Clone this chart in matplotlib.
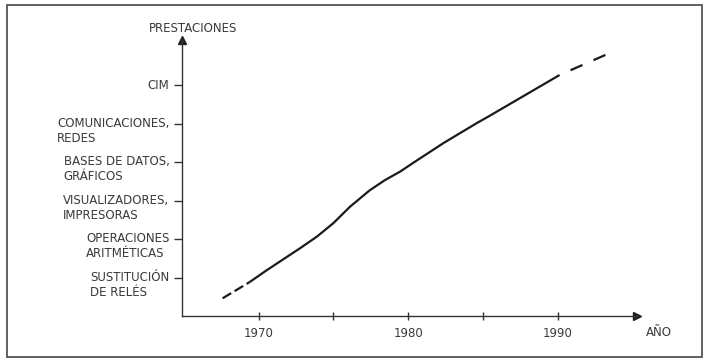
"""
Evolucion de las prestaciones de los automatas programables (figura de libro).
"""
import matplotlib.pyplot as plt
from matplotlib.patches import Rectangle

# Niveles del eje vertical (de abajo a arriba)
levels = [1, 2, 3, 4, 5, 6]
level_labels = [
    "SUSTITUCIÓN\nDE RELÉS",
    "OPERACIONES\nARITMÉTICAS",
    "VISUALIZADORES,\nIMPRESORAS",
    "BASES DE DATOS,\nGRÁFICOS",
    "COMUNICACIONES,\nREDES",
    "CIM",
]

# Ticks del eje horizontal
year_ticks = [1970, 1975, 1980, 1985, 1990]
year_labels = ["1970", "", "1980", "", "1990"]

# Curva: tramo inicial a trazos, tramo continuo, tramo final a trazos
start_years = [1967.6, 1969.4]
start_values = [0.46, 0.88]
main_years = [1969.4, 1970.55, 1972.77, 1973.89, 1974.99, 1976.11, 1977.44,
              1978.44, 1979.45, 1980.45, 1982.34, 1983.45, 1984.57, 1985.34, 1990.1]
main_values = [0.88, 1.19, 1.76, 2.06, 2.41, 2.84, 3.27,
               3.53, 3.75, 4.01, 4.49, 4.75, 5.01, 5.18, 6.26]
end_years = [1990.1, 1993.5]
end_values = [6.26, 6.84]

W, H = 704, 360
fig = plt.figure(figsize=(W / 100, H / 100), dpi=100)

# Marco exterior
fig.patches.append(Rectangle((7 / W, 3 / H), 695 / W, 352 / H, transform=fig.transFigure,
                             fill=False, edgecolor="#555555", linewidth=1.3))

ax_left, ax_bottom = 182, 316
ax_right, ax_top = 637, 40
ax = fig.add_axes([ax_left / W, (H - ax_bottom) / H, (ax_right - ax_left) / W, (ax_bottom - ax_top) / H])
ax.set_xlim(1964.89, 1995.27)
ax.set_ylim(0, 7.17)

line_kw = dict(color="#1a1a1a", linewidth=1.6, solid_capstyle="butt", solid_joinstyle="round")
ax.plot(start_years, start_values, linestyle=(0, (4.5, 1.8)), dash_capstyle="butt", **line_kw)
ax.plot(main_years, main_values, **line_kw)
ax.plot(end_years, end_values, linestyle=(5.85, (5.85, 5.4)), dash_capstyle="butt", **line_kw)

# Ejes con flecha
for side in ("top", "right"):
    ax.spines[side].set_visible(False)
for side in ("left", "bottom"):
    ax.spines[side].set_color("#333333")
    ax.spines[side].set_linewidth(1.0)
ax.plot(1, 0, marker=">", markersize=6, color="#222222", transform=ax.transAxes, clip_on=False)
ax.plot(0, 1, marker="^", markersize=6, color="#222222", transform=ax.transAxes, clip_on=False)

text_kw = dict(fontsize=8.5, color="#3a3a3a")

ax.set_xticks(year_ticks)
ax.set_xticklabels(year_labels, **text_kw)
ax.tick_params(axis="x", direction="inout", length=6, width=1, color="#333333", pad=5)

ax.set_yticks(levels)
ax.set_yticklabels([])
ax.tick_params(axis="y", direction="out", length=6, width=1, color="#333333")
for lvl, label in zip(levels, level_labels):
    two_lines = "\n" in label
    ax.annotate(label, xy=(0, lvl), xycoords=("axes fraction", "data"),
                xytext=(-9, 5 if two_lines else 0), textcoords="offset points",
                ha="right", va="top" if two_lines else "center", multialignment="left",
                linespacing=1.2, **text_kw)

fig.text(193 / W, 1 - 28 / H, "PRESTACIONES", ha="center", va="center", **text_kw)
fig.text(659 / W, 1 - 333 / H, "AÑO", ha="center", va="center", **text_kw)

fig.savefig("out.png", dpi=100)
